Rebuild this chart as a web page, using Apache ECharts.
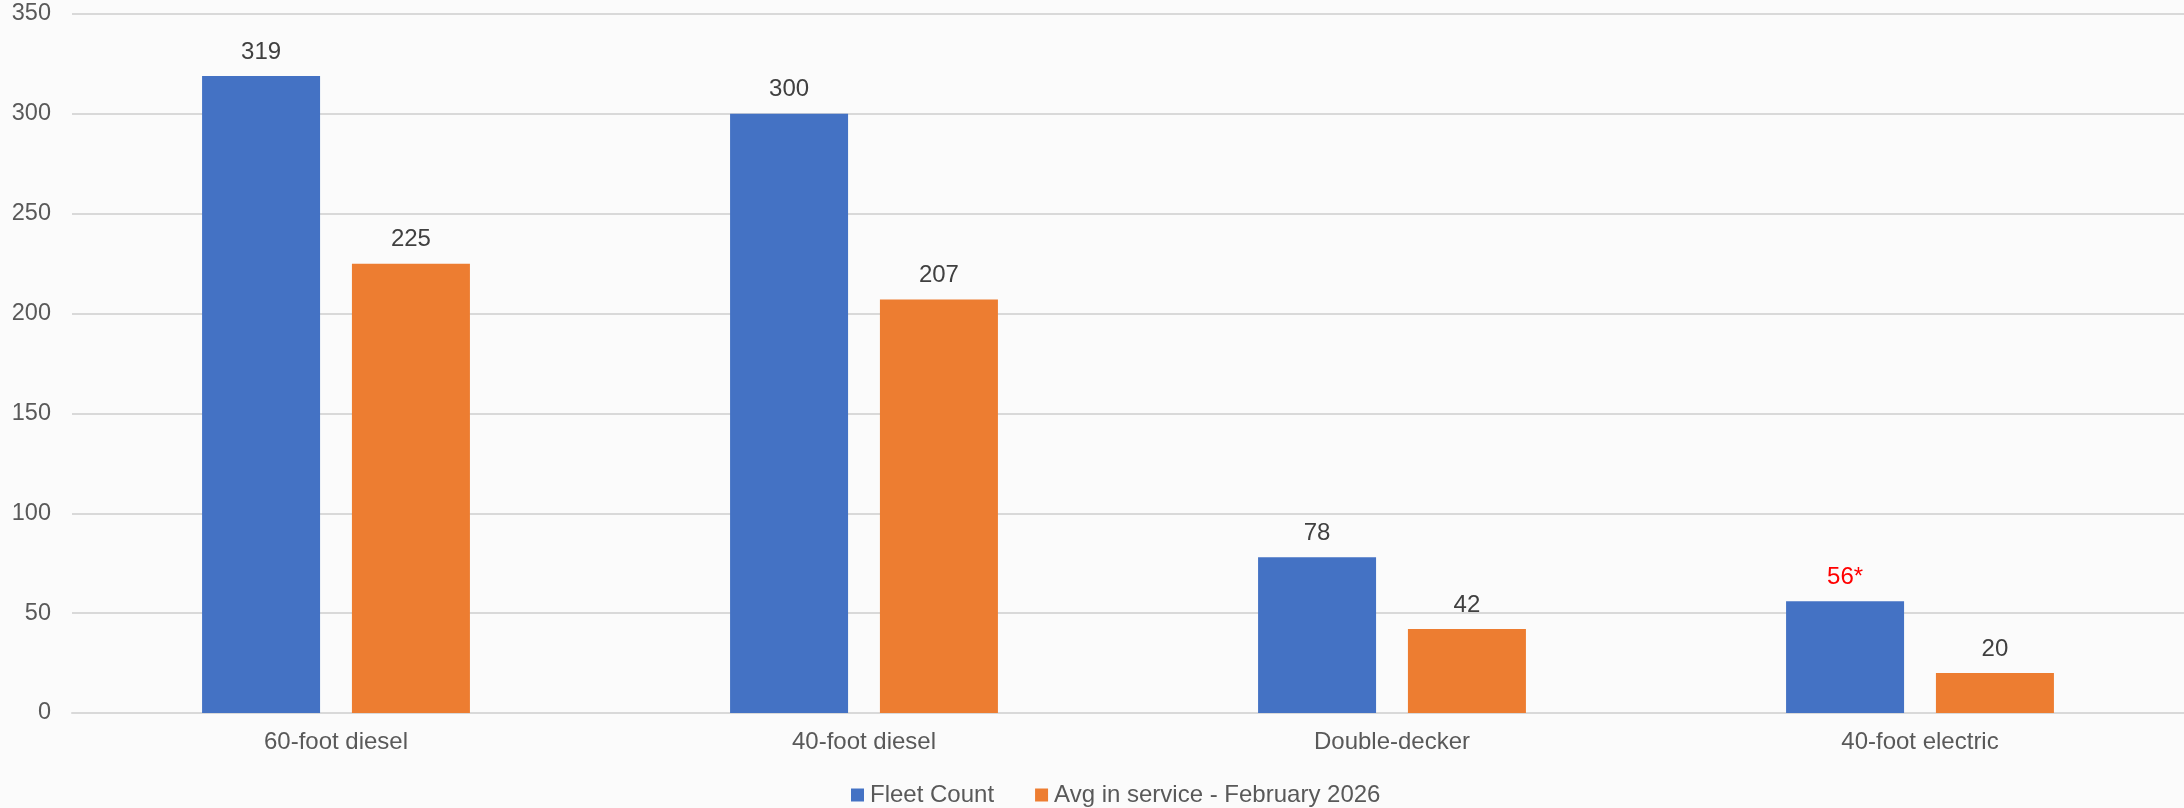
<!DOCTYPE html>
<html>
<head>
<meta charset="utf-8">
<script src="https://cdn.jsdelivr.net/npm/echarts@6/dist/echarts.min.js"></script>
<style>
  html, body { margin: 0; padding: 0; background: #FBFBFB; }
  #chart { width: 2184px; height: 808px; }
</style>
</head>
<body>
<div id="chart"></div>
<script>
const categories = ['60-foot diesel', '40-foot diesel', 'Double-decker', '40-foot electric'];
const seriesNames = ['Fleet Count', 'Avg in service - February 2026'];
const fleetCount = [319, 300, 78, 56];
const fleetNotes = ['', '', '', '*'];
const avgInService = [225, 207, 42, 20];
const yTicks = [0, 50, 100, 150, 200, 250, 300, 350];

const FONT = '"Liberation Sans", Arial, sans-serif';

const fleetData = fleetCount.map((v, i) => {
  const item = { value: v, note: fleetNotes[i] };
  if (fleetNotes[i]) item.label = { color: '#FF0000' };
  return item;
});

const chart = echarts.init(document.getElementById('chart'), null, { renderer: 'canvas' });
chart.setOption({
  backgroundColor: '#FBFBFB',
  animation: false,
  textStyle: { fontFamily: FONT },
  grid: { left: 72, right: 0, top: 14, bottom: 95, containLabel: false },
  legend: {
    data: seriesNames,
    left: 846,
    top: 778,
    itemWidth: 13,
    itemHeight: 13,
    itemGap: 41,
    icon: 'rect',
    textStyle: { fontFamily: FONT, fontSize: 24, color: '#595959', padding: [0, 0, 0, 1] }
  },
  xAxis: {
    type: 'category',
    data: categories,
    axisTick: { show: false },
    axisLine: { lineStyle: { color: '#D9D9D9', width: 2 } },
    axisLabel: { fontFamily: FONT, fontSize: 24, color: '#595959', margin: 17 }
  },
  yAxis: {
    type: 'value',
    min: yTicks[0],
    max: yTicks[yTicks.length - 1],
    interval: yTicks[1] - yTicks[0],
    axisLine: { show: false },
    axisTick: { show: false },
    splitLine: { lineStyle: { color: '#D9D9D9', width: 2 } },
    axisLabel: { fontFamily: FONT, fontSize: 23.5, color: '#595959', margin: 21 }
  },
  series: [
    {
      name: seriesNames[0],
      type: 'bar',
      data: fleetData,
      barWidth: 118,
      barGap: '27%',
      itemStyle: { color: '#4472C4' },
      label: {
        show: true,
        position: 'top',
        distance: 12,
        fontFamily: FONT,
        fontSize: 24,
        color: '#404040',
        formatter: p => p.value + (p.data.note || '')
      }
    },
    {
      name: seriesNames[1],
      type: 'bar',
      data: avgInService,
      barWidth: 118,
      barGap: '27%',
      itemStyle: { color: '#ED7D31' },
      label: {
        show: true,
        position: 'top',
        distance: 12,
        fontFamily: FONT,
        fontSize: 24,
        color: '#404040'
      }
    }
  ]
});
</script>
</body>
</html>
